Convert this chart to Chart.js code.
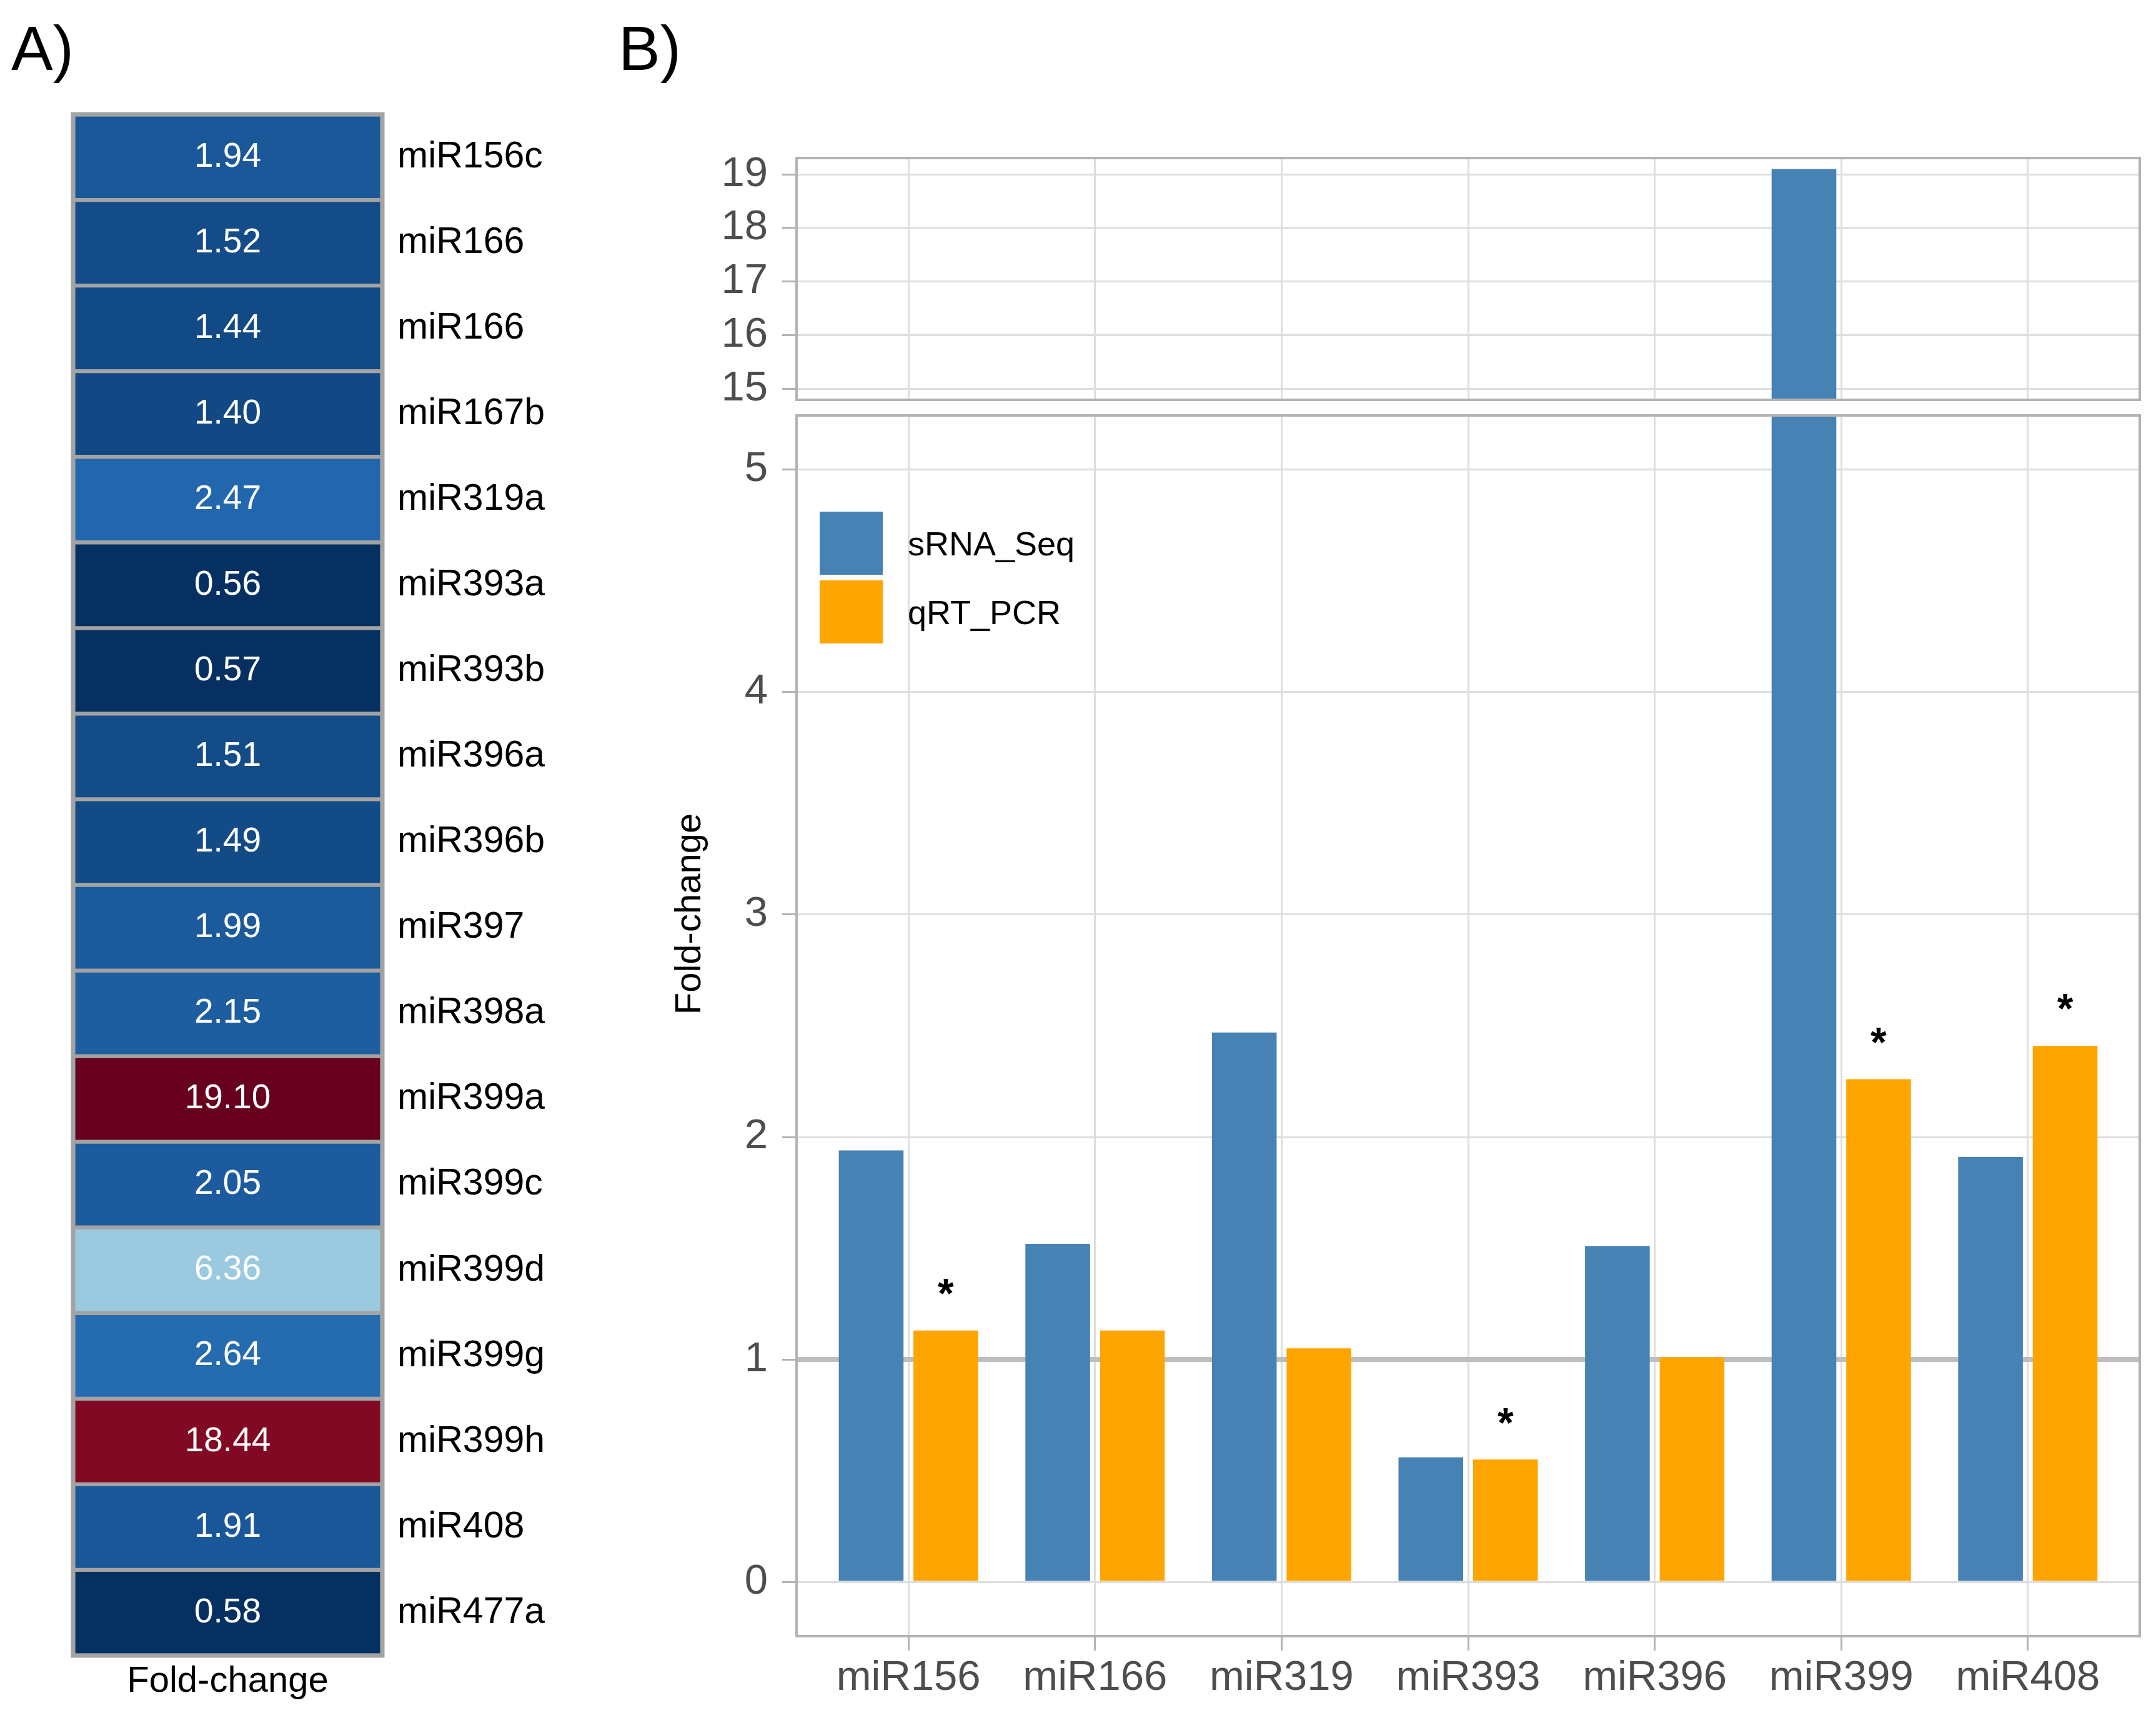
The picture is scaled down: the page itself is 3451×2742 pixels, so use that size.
<!DOCTYPE html>
<html lang="en">
<head>
  <meta charset="UTF-8" />
  <title>miRNA fold-change</title>
  <script src="https://cdn.jsdelivr.net/npm/chart.js"></script>
  <style>
    html, body { margin: 0; padding: 0; background: #fff; }
    body { width: 3451px; height: 2742px; position: relative; overflow: hidden; font-family: "Liberation Sans", Arial, sans-serif; }
    canvas { position: absolute; }
    #heat { left: 100px; top: 170px; }
    #barTop { left: 1150px; top: 220px; }
    #barBottom { left: 1150px; top: 640px; }
    .tag { position: absolute; font-size: 100px; line-height: 1; color: #000; }
    #yTitle { position: absolute; left: 1101px; top: 1463px; font-size: 58px; line-height: 1; white-space: nowrap; color: #000;
              transform: translate(-50%, -50%) rotate(-90deg); }
    #legend { position: absolute; left: 1312px; top: 819px; }
    .key { display: flex; align-items: center; height: 101px; margin-bottom: 9px; }
    .key span.box { width: 101px; height: 101px; margin-right: 40px; }
    .key span.txt { font-size: 54px; color: #000; }
  </style>
</head>
<body>
  <div class="tag" style="left:18px; top:27px;">A)</div>
  <div class="tag" style="left:990px; top:27px;">B)</div>

  <canvas id="heat" width="850" height="2572"></canvas>
  <canvas id="barTop" width="2301" height="440"></canvas>
  <canvas id="barBottom" width="2301" height="2102"></canvas>

  <div id="yTitle">Fold-change</div>
  <div id="legend"></div>

  <script>
    // panel A
    const heatLabels = ['miR156c', 'miR166', 'miR166', 'miR167b', 'miR319a', 'miR393a', 'miR393b', 'miR396a', 'miR396b',
                        'miR397', 'miR398a', 'miR399a', 'miR399c', 'miR399d', 'miR399g', 'miR399h', 'miR408', 'miR477a'];
    const heatValues = [1.94, 1.52, 1.44, 1.40, 2.47, 0.56, 0.57, 1.51, 1.49,
                        1.99, 2.15, 19.10, 2.05, 6.36, 2.64, 18.44, 1.91, 0.58];

    // panel B
    const groups = ['miR156', 'miR166', 'miR319', 'miR393', 'miR396', 'miR399', 'miR408'];
    const seriesNames = ['sRNA_Seq', 'qRT_PCR'];
    const srnaSeq = [1.94, 1.52, 2.47, 0.56, 1.51, 19.10, 1.91];
    const qrtPcr = [1.13, 1.13, 1.05, 0.55, 1.01, 2.26, 2.41];
    const significant = [true, false, false, true, false, true, true];
    const topTicks = [15, 16, 17, 18, 19];
    const bottomTicks = [0, 1, 2, 3, 4, 5];

    const seriesColors = ['#4682B4', '#FFA500'];
    const rdbu = ['#053061', '#2166AC', '#4393C3', '#92C5DE', '#D1E5F0', '#F7F7F7',
                  '#FDDBC7', '#F4A582', '#D6604D', '#B2182B', '#67001F'];

    Chart.defaults.font.family = '"Liberation Sans", Arial, sans-serif';

    function hexRgb(h) {
      return [1, 3, 5].map(i => parseInt(h.slice(i, i + 2), 16));
    }

    function heatColor(v) {
      const lo = Math.min(...heatValues), hi = Math.max(...heatValues);
      const t = (v - lo) / (hi - lo) * (rdbu.length - 1);
      const i = Math.min(Math.floor(t), rdbu.length - 2);
      const f = t - i;
      const a = hexRgb(rdbu[i]), b = hexRgb(rdbu[i + 1]);
      const c = a.map((x, k) => Math.round(x + (b[k] - x) * f));
      return 'rgb(' + c.join(',') + ')';
    }

    // fixed axis sizes so the plot areas land where the figure has them
    function fixBox(size) {
      return s => {
        if (s.isHorizontal()) s.height = size; else s.width = size;
        s.paddingTop = s.paddingBottom = s.paddingLeft = s.paddingRight = 0;
      };
    }

    const heatText = {
      id: 'heatText',
      afterDatasetsDraw(chart) {
        const ctx = chart.ctx;
        const meta = chart.getDatasetMeta(0);
        ctx.save();
        ctx.font = '55px "Liberation Sans", Arial, sans-serif';
        ctx.fillStyle = '#fff';
        ctx.textAlign = 'center';
        ctx.textBaseline = 'middle';
        meta.data.forEach((bar, i) => {
          ctx.fillText(heatValues[i].toFixed(2), (bar.x + bar.base) / 2, bar.y);
        });
        ctx.restore();
      }
    };

    const frame = (color, width) => ({
      id: 'frame',
      afterDraw(chart) {
        const a = chart.chartArea, ctx = chart.ctx;
        ctx.save();
        ctx.strokeStyle = color;
        ctx.lineWidth = width;
        ctx.strokeRect(a.left, a.top, a.right - a.left, a.bottom - a.top);
        ctx.restore();
      }
    });

    const refLine = {
      id: 'refLine',
      beforeDatasetsDraw(chart) {
        const a = chart.chartArea, ctx = chart.ctx;
        const y = chart.scales.y.getPixelForValue(1);
        ctx.save();
        ctx.strokeStyle = '#BEBEBE';
        ctx.lineWidth = 8;
        ctx.beginPath();
        ctx.moveTo(a.left, y);
        ctx.lineTo(a.right, y);
        ctx.stroke();
        ctx.restore();
      }
    };

    const stars = {
      id: 'stars',
      afterDatasetsDraw(chart) {
        const ctx = chart.ctx;
        const meta = chart.getDatasetMeta(1);
        ctx.save();
        ctx.font = 'bold 66px "Liberation Sans", Arial, sans-serif';
        ctx.fillStyle = '#000';
        ctx.textAlign = 'center';
        ctx.textBaseline = 'alphabetic';
        significant.forEach((s, i) => {
          if (!s) return;
          const y = chart.scales.y.getPixelForValue(qrtPcr[i] + 0.21);
          ctx.fillText('*', meta.data[i].x, y + 38);
        });
        ctx.restore();
      }
    };

    // heatmap drawn as full-width horizontal bars, one per row
    new Chart(document.getElementById('heat'), {
      type: 'bar',
      data: {
        labels: heatLabels,
        datasets: [{
          data: heatLabels.map(() => 1),
          backgroundColor: heatValues.map(heatColor),
          borderColor: '#A3A3A3',
          borderWidth: 3.5,
          borderSkipped: false,
          barPercentage: 1,
          categoryPercentage: 1
        }]
      },
      options: {
        indexAxis: 'y',
        responsive: false,
        animation: false,
        devicePixelRatio: 1,
        events: [],
        layout: { padding: { left: 17, top: 13, right: 0, bottom: 0 } },
        plugins: { legend: { display: false }, tooltip: { enabled: false } },
        scales: {
          x: {
            min: 0, max: 1,
            grid: { display: false },
            border: { display: false },
            ticks: { display: false },
            title: { display: true, text: 'Fold-change', color: '#000', font: { size: 58 }, padding: { top: 0, bottom: 15 } },
            afterFit: fixBox(92)
          },
          y: {
            position: 'right',
            grid: { display: false, drawTicks: false },
            border: { display: false },
            ticks: { color: '#000', font: { size: 59 }, padding: 24 },
            afterFit: fixBox(338)
          }
        }
      },
      plugins: [heatText, frame('#A3A3A3', 7)]
    });

    function makeDatasets() {
      return [srnaSeq, qrtPcr].map((vals, k) => ({
        label: seriesNames[k],
        data: vals.map((v, i) => ({ x: i + 1, y: v })),
        backgroundColor: seriesColors[k],
        categoryPercentage: 0.8,
        barPercentage: 0.867,
        clip: 0
      }));
    }

    const gridStyle = { color: '#DEDEDE', lineWidth: 3, tickColor: '#B3B3B3', tickWidth: 3, tickLength: 23, offset: false };

    function xAxis(showLabels) {
      return {
        type: 'linear',
        offset: false,
        min: 0.4, max: 7.6,
        afterBuildTicks: s => { s.ticks = groups.map((g, i) => ({ value: i + 1 })); },
        grid: Object.assign({}, gridStyle, { drawTicks: showLabels }),
        border: { display: false },
        ticks: {
          display: showLabels, autoSkip: false, maxRotation: 0, minRotation: 0,
          color: '#4D4D4D', font: { size: 67 }, padding: 4,
          callback: v => groups[v - 1]
        },
        afterFit: fixBox(showLabels ? 123 : 0)
      };
    }

    function yAxis(min, max, tickVals) {
      return {
        min: min, max: max,
        afterBuildTicks: s => { s.ticks = tickVals.map(v => ({ value: v })); },
        grid: gridStyle,
        border: { display: false },
        ticks: { color: '#4D4D4D', font: { size: 67 }, padding: 23 },
        afterFit: fixBox(125)
      };
    }

    const common = {
      responsive: false,
      animation: false,
      devicePixelRatio: 1,
      events: [],
      plugins: { legend: { display: false }, tooltip: { enabled: false } }
    };

    // upper part of the broken axis
    new Chart(document.getElementById('barTop'), {
      type: 'bar',
      data: { datasets: makeDatasets() },
      options: Object.assign({}, common, {
        layout: { padding: { left: 0, top: 33, right: 26, bottom: 20 } },
        scales: { x: xAxis(false), y: yAxis(14.795, 19.305, topTicks) }
      }),
      plugins: [frame('#B3B3B3', 4)]
    });

    // lower part of the broken axis
    new Chart(document.getElementById('barBottom'), {
      type: 'bar',
      data: { datasets: makeDatasets() },
      options: Object.assign({}, common, {
        layout: { padding: { left: 0, top: 25, right: 26, bottom: 0 } },
        scales: { x: xAxis(true), y: yAxis(-0.244, 5.244, bottomTicks) }
      }),
      plugins: [refLine, stars, frame('#B3B3B3', 4)]
    });

    const legend = document.getElementById('legend');
    seriesNames.forEach((name, k) => {
      const row = document.createElement('div');
      row.className = 'key';
      row.innerHTML = '<span class="box" style="background:' + seriesColors[k] + '"></span><span class="txt">' + name + '</span>';
      legend.appendChild(row);
    });
  </script>
</body>
</html>
